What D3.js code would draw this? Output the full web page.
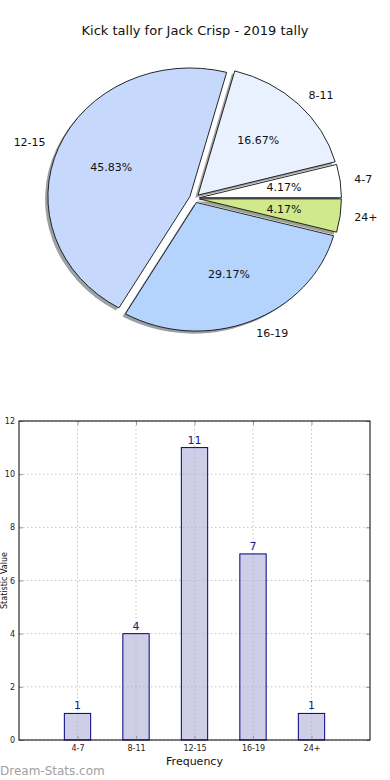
<!DOCTYPE html>
<html>
<head>
<meta charset="utf-8">
<script src="https://cdn.jsdelivr.net/npm/d3@7"></script>
<style>
  body { margin: 0; background: #fff; }
  text { font-family: "DejaVu Sans", sans-serif; }
</style>
</head>
<body>
<div class="canvas"></div>
<script>
// chart data
const categories = ['4-7', '8-11', '12-15', '16-19', '24+'];
const tallies = [1, 4, 11, 7, 1];
const sliceColors = ['#ffffff', '#e9f0fe', '#c6d9fd', '#b4d4fe', '#cfe98b'];
const yTicks = [0, 2, 4, 6, 8, 10, 12];

const dims = { width: 390, height: 780 };

const svg = d3.select('.canvas')
  .append('svg')
  .attr('width', dims.width)
  .attr('height', dims.height);

// title
svg.append('text')
  .attr('x', 195)
  .attr('y', 35)
  .attr('text-anchor', 'middle')
  .attr('font-size', 13)
  .attr('fill', '#111')
  .text('Kick tally for Jack Crisp - 2019 tally');

// ---------- pie ----------
const pieDims = { cx: 194.5, cy: 198.3, rx: 142, ry: 128.6 };
const explode = 0.035;
const total = d3.sum(tallies);

// counter-clockwise from 3 o'clock, like matplotlib
const pie = d3.pie()
  .sort(null)
  .startAngle(Math.PI / 2)
  .endAngle(Math.PI / 2 - 2 * Math.PI);

const arcs = pie(tallies);
const arc = d3.arc().innerRadius(0).outerRadius(pieDims.rx);
const sy = pieDims.ry / pieDims.rx;

// point on the ellipse for a d3 angle and radius fraction
const polar = (a, f) => [
  pieDims.cx + f * pieDims.rx * Math.sin(a),
  pieDims.cy - f * pieDims.ry * Math.cos(a)
];

const pieGroup = svg.append('g');

arcs.forEach((d, i) => {
  const mid = (d.startAngle + d.endAngle) / 2;
  const dx = explode * pieDims.rx * Math.sin(mid);
  const dy = -explode * pieDims.ry * Math.cos(mid);
  const base = `translate(${pieDims.cx + dx},${pieDims.cy + dy})`;

  // shadow
  const c = d3.rgb(sliceColors[i]);
  pieGroup.append('path')
    .attr('d', arc(d))
    .attr('transform', `translate(${-0.02 * pieDims.rx},${0.02 * pieDims.ry}) ${base} scale(1,${sy})`)
    .attr('fill', d3.rgb(c.r * 0.3, c.g * 0.3, c.b * 0.3))
    .attr('fill-opacity', 0.5);
});

arcs.forEach((d, i) => {
  const mid = (d.startAngle + d.endAngle) / 2;
  const dx = explode * pieDims.rx * Math.sin(mid);
  const dy = -explode * pieDims.ry * Math.cos(mid);
  pieGroup.append('path')
    .attr('d', arc(d))
    .attr('transform', `translate(${pieDims.cx + dx},${pieDims.cy + dy}) scale(1,${sy})`)
    .attr('fill', sliceColors[i])
    .attr('stroke', '#111')
    .attr('stroke-width', 0.9)
    .attr('vector-effect', 'non-scaling-stroke');
});

// labels
arcs.forEach((d, i) => {
  const mid = (d.startAngle + d.endAngle) / 2;
  const dx = explode * pieDims.rx * Math.sin(mid);
  const dy = -explode * pieDims.ry * Math.cos(mid);

  const [lx, ly] = polar(mid, 1.1);
  svg.append('text')
    .attr('x', lx + dx)
    .attr('y', ly + dy)
    .attr('dy', '0.35em')
    .attr('text-anchor', Math.sin(mid) > 0 ? 'start' : 'end')
    .attr('font-size', 11)
    .attr('fill', '#111')
    .text(categories[i]);

  const [px, py] = polar(mid, 0.6);
  svg.append('text')
    .attr('x', px + dx)
    .attr('y', py + dy)
    .attr('dy', '0.35em')
    .attr('text-anchor', 'middle')
    .attr('font-size', 11)
    .attr('fill', '#111')
    .text((100 * d.data / total).toFixed(2) + '%');
});

// ---------- bar chart ----------
const plot = { left: 19, right: 370, top: 421, bottom: 740 };

const x = d3.scaleLinear()
  .domain([0, categories.length + 1])
  .range([plot.left, plot.right]);

const y = d3.scaleLinear()
  .domain([0, 12])
  .range([plot.bottom, plot.top]);

const barW = x(0.45) - x(0);
const catPos = categories.map((c, i) => i + 1);

const grid = svg.append('g')
  .attr('stroke', '#c4c4c4')
  .attr('stroke-width', 1)
  .attr('stroke-dasharray', '1.5,2.5');

yTicks.forEach(t => {
  grid.append('line')
    .attr('x1', plot.left).attr('x2', plot.right)
    .attr('y1', y(t)).attr('y2', y(t));
});
catPos.forEach(p => {
  grid.append('line')
    .attr('x1', x(p)).attr('x2', x(p))
    .attr('y1', plot.top).attr('y2', plot.bottom);
});

// bars
svg.append('g')
  .selectAll('rect')
  .data(tallies)
  .enter()
  .append('rect')
    .attr('x', (d, i) => x(catPos[i]) - barW / 2)
    .attr('y', d => y(d))
    .attr('width', barW)
    .attr('height', d => y(0) - y(d))
    .attr('fill', '#b0b0d8')
    .attr('fill-opacity', 0.62)
    .attr('stroke', '#000080')
    .attr('stroke-width', 1);

// value labels
svg.append('g')
  .selectAll('text')
  .data(tallies)
  .enter()
  .append('text')
    .attr('x', (d, i) => x(catPos[i]))
    .attr('y', d => y(d) - 4)
    .attr('text-anchor', 'middle')
    .attr('font-size', 11)
    .attr('fill', '#1a1a8a')
    .text(d => d);

// axes with inward ticks
const axisLeft = d3.axisLeft(y).tickValues(yTicks).tickSize(-4).tickPadding(4);
const axisRight = d3.axisRight(y).tickValues(yTicks).tickSize(-4).tickFormat('');
const axisBottom = d3.axisBottom(x).tickValues(catPos).tickSize(-4).tickPadding(5)
  .tickFormat((d, i) => categories[i]);
const axisTop = d3.axisTop(x).tickValues(catPos).tickSize(-4).tickFormat('');

const styleAxis = g => {
  g.select('.domain').remove();
  g.selectAll('line').attr('stroke', '#999');
  g.selectAll('text').attr('font-size', 8).attr('fill', '#222')
    .attr('font-family', '"DejaVu Sans", sans-serif');
};

svg.append('g').attr('transform', `translate(${plot.left},0)`).call(axisLeft).call(styleAxis);
svg.append('g').attr('transform', `translate(${plot.right},0)`).call(axisRight).call(styleAxis);
svg.append('g').attr('transform', `translate(0,${plot.bottom})`).call(axisBottom).call(styleAxis);
svg.append('g').attr('transform', `translate(0,${plot.top})`).call(axisTop).call(styleAxis);

// frame
svg.append('rect')
  .attr('x', plot.left)
  .attr('y', plot.top)
  .attr('width', plot.right - plot.left)
  .attr('height', plot.bottom - plot.top)
  .attr('fill', 'none')
  .attr('stroke', '#000')
  .attr('stroke-width', 1);

// axis titles
svg.append('text')
  .attr('x', (plot.left + plot.right) / 2)
  .attr('y', 765)
  .attr('text-anchor', 'middle')
  .attr('font-size', 11)
  .attr('fill', '#111')
  .text('Frequency');

svg.append('text')
  .attr('transform', `translate(7,${(plot.top + plot.bottom) / 2}) rotate(-90)`)
  .attr('text-anchor', 'middle')
  .attr('font-size', 8)
  .attr('fill', '#111')
  .text('Statistic Value');

// watermark
svg.append('text')
  .attr('x', 0)
  .attr('y', 775)
  .attr('font-size', 12)
  .attr('fill', '#a0a0a0')
  .text('Dream-Stats.com');
</script>
</body>
</html>
